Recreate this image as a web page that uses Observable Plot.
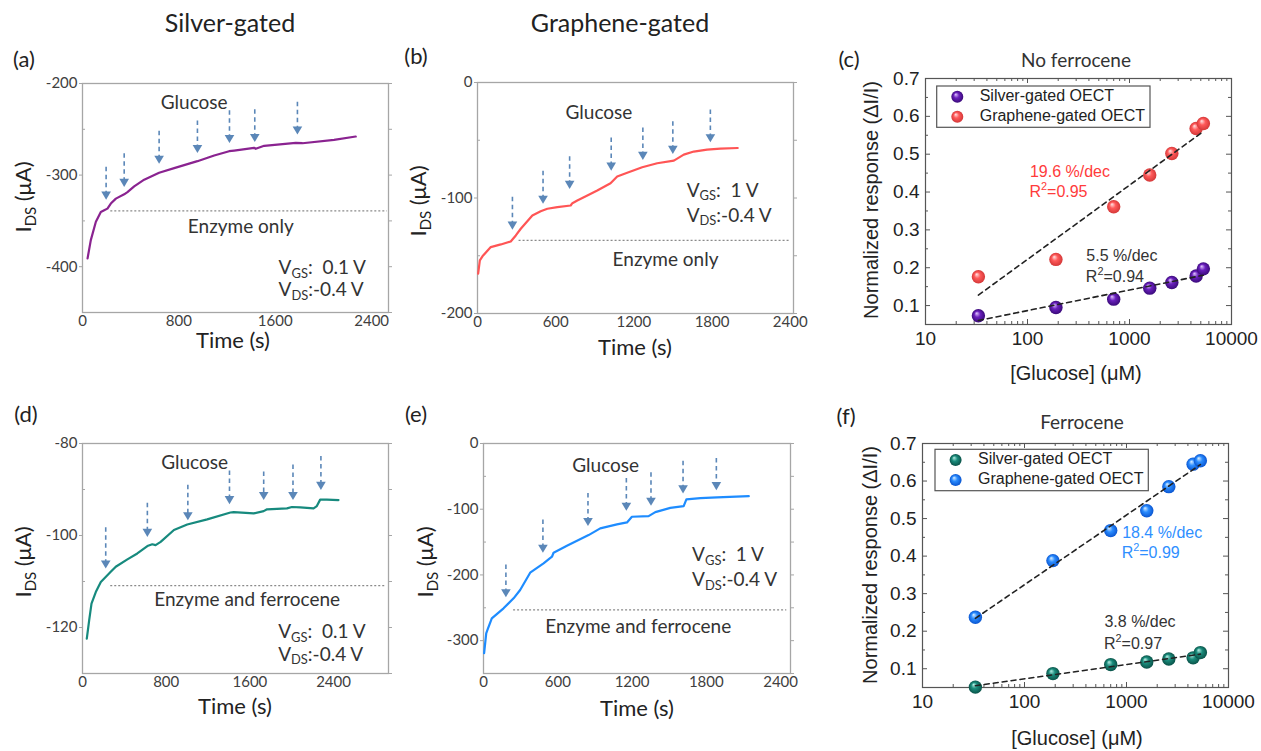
<!DOCTYPE html>
<html><head><meta charset="utf-8">
<script src="https://cdn.jsdelivr.net/npm/d3@7"></script>
<script src="https://cdn.jsdelivr.net/npm/@observablehq/plot@0.6"></script>
<style>
html,body{margin:0;padding:0;background:#fff;}
#root{position:relative;width:1261px;height:751px;overflow:hidden;background:#fff;}
.lab{position:absolute;transform:translate(-50%,-50%);white-space:nowrap;color:#222;font-family:Lato,sans-serif;}
.pl{position:absolute;}
</style></head><body>
<svg width="0" height="0" style="position:absolute">
<defs>
<radialGradient id="sphPurple" cx="50%" cy="50%" r="50%" fx="36%" fy="30%"><stop offset="0%" stop-color="#e2c8ff"/><stop offset="45%" stop-color="#6a20bd"/><stop offset="100%" stop-color="#3a0a7a"/></radialGradient>
<radialGradient id="sphRed" cx="50%" cy="50%" r="50%" fx="36%" fy="30%"><stop offset="0%" stop-color="#ffe6e6"/><stop offset="45%" stop-color="#ff5a5a"/><stop offset="100%" stop-color="#d43838"/></radialGradient>
<radialGradient id="sphTeal" cx="50%" cy="50%" r="50%" fx="36%" fy="30%"><stop offset="0%" stop-color="#b8eee4"/><stop offset="45%" stop-color="#1a8c7c"/><stop offset="100%" stop-color="#0a5248"/></radialGradient>
<radialGradient id="sphBlue" cx="50%" cy="50%" r="50%" fx="36%" fy="30%"><stop offset="0%" stop-color="#dcefff"/><stop offset="45%" stop-color="#2a8cff"/><stop offset="100%" stop-color="#0a55d0"/></radialGradient>
</defs></svg>
<div id="root"></div>
<script>
// ---------------- DATA ----------------
// (a) Silver-gated, enzyme only
const timeA = [42, 69, 111, 152, 180, 207, 235, 277, 346, 373, 429, 512, 636, 761, 954, 1093, 1217, 1259, 1424, 1438, 1508, 1770, 1826, 2088, 2268];
const idsA = [-390.9, -371, -351, -340.2, -338.4, -336.6, -331.1, -325.7, -321, -318.5, -312.3, -305, -297.4, -292.4, -284.8, -278.6, -273.9, -273.2, -270.2, -271.3, -268, -264.8, -265.2, -261.5, -257.9];
const arrowTimeA = [196, 346, 636, 954, 1220, 1430, 1784];
const arrowTopA = [-291.3, -276.8, -252, -241, -229.7, -228.6, -220.6];
const arrowTipA = [-326.8, -313, -287.7, -276, -265, -264, -255.8];
const baselineA = [-339, 235, 2530];

// (b) Graphene-gated, enzyme only
const timeB = [5, 18, 38, 102, 179, 255, 294, 332, 421, 485, 536, 613, 715, 728, 766, 843, 919, 1021, 1072, 1149, 1264, 1379, 1507, 1583, 1660, 1762, 1864, 1997];
const idsB = [-165.5, -154, -150.5, -142.5, -140.2, -137.6, -132.4, -126.6, -115.1, -111.4, -109.3, -107.9, -106.5, -104.5, -102.2, -97.8, -93.5, -87.2, -81.4, -78.2, -73.4, -69.9, -67.6, -62.4, -59.8, -58.1, -57.3, -56.7];
const arrowTimeB = [268, 503, 707, 1026, 1269, 1499, 1787];
const arrowTopB = [-99.3, -76.8, -64.2, -48, -39.4, -33.9, -23.9];
const arrowTipB = [-127.5, -105, -92.1, -76.3, -67, -61.9, -51.8];
const baselineB = [-136.7, 319, 2400];

// (d) Silver-gated, enzyme and ferrocene
const timeD = [41, 64, 86, 127, 175, 270, 318, 429, 524, 620, 667, 699, 747, 874, 1001, 1192, 1414, 1446, 1637, 1732, 1764, 1954, 2002, 2082, 2209, 2240, 2272, 2336, 2447];
const idsD = [-122.4, -118.4, -114.8, -112.3, -110.1, -107.9, -106.8, -105.2, -103.9, -102.3, -101.9, -102.1, -101.4, -98.8, -97.6, -96.5, -95, -94.9, -95.2, -94.7, -94.3, -94.1, -93.8, -93.9, -94.1, -93.6, -92.2, -92.2, -92.3];
const arrowTimeD = [222, 620, 1007, 1405, 1732, 2012, 2279];
const arrowTopD = [-98.3, -93, -89.1, -86, -86.2, -84.7, -82.8];
const arrowTipD = [-107.2, -100.3, -96.7, -93.2, -92.3, -92.3, -90.1];
const baselineD = [-110.9, 270, 2900];

// (e) Graphene-gated, enzyme and ferrocene
const timeE = [5, 22, 32, 67, 162, 243, 296, 377, 485, 553, 566, 674, 849, 943, 1078, 1159, 1199, 1334, 1388, 1509, 1617, 1639, 1752, 1887, 2143];
const idsE = [-319.1, -288.8, -283.7, -266, -250.8, -235.6, -222.9, -196.6, -182.4, -172.3, -166.2, -155.6, -139.4, -129.2, -123.1, -120.1, -111.5, -110.5, -104.4, -97.9, -95.3, -85.1, -83.1, -82.1, -80.1];
const arrowTimeE = [181, 480, 844, 1154, 1353, 1612, 1881];
const arrowTopE = [-185, -116.6, -76, -53.2, -44.7, -26.9, -22.8];
const arrowTipE = [-234, -166.3, -125.7, -102.4, -94.8, -76, -71];
const baselineE = [-253.3, 243, 2450];

// (c)/(f) calibration
const glucose = [33, 190, 700, 1580, 2600, 4500, 5300];
const silverNoFc = [0.073, 0.095, 0.117, 0.146, 0.161, 0.178, 0.197];
const grapheneNoFc = [0.176, 0.222, 0.361, 0.445, 0.502, 0.568, 0.581];
const silverFc = [0.051, 0.087, 0.111, 0.118, 0.126, 0.129, 0.143];
const grapheneFc = [0.237, 0.388, 0.468, 0.521, 0.585, 0.645, 0.654];

const xMajorLog = [10, 100, 1000, 10000];
const xMinorLog = [20,30,40,50,60,70,80,90,200,300,400,500,600,700,800,900,2000,3000,4000,5000,6000,7000,8000,9000];
const yMajorResp = [0.1, 0.2, 0.3, 0.4, 0.5, 0.6, 0.7];
const yMinorResp = [0.15, 0.25, 0.35, 0.45, 0.55, 0.65];

// ---------------- HELPERS ----------------
const root = document.getElementById("root");
const ARROW = "#5b87b8";
function addLabel(text, x, y, style) {
  const d = document.createElement("div"); d.className = "lab"; d.textContent = text;
  d.style.left = x + "px"; d.style.top = y + "px"; Object.assign(d.style, style || {}); root.appendChild(d);
}
function place(svg, left, top) {
  const d = document.createElement("div"); d.className = "pl";
  d.style.left = left + "px"; d.style.top = top + "px"; d.appendChild(svg); root.appendChild(d);
}
function rich(svg, x, y, parts, o) {
  const t = d3.select(svg).append("text").attr("x", x).attr("y", y)
    .attr("font-family", o.font).attr("font-size", o.size).attr("fill", o.fill || "#333")
    .attr("text-anchor", o.anchor || "start").attr("dominant-baseline", "middle")
    .style("white-space", "pre");
  if (o.rotate) t.attr("transform", `rotate(${o.rotate},${x},${y})`);
  let shift = 0;
  for (const [s, kind] of parts) {
    const sp = t.append("tspan").text(s);
    const target = kind === "sub" ? o.size * 0.3 : kind === "sup" ? -o.size * 0.38 : 0;
    sp.attr("dy", target - shift); shift = target;
    if (kind) sp.attr("font-size", o.size * 0.68);
  }
}
const triDown = { draw(ctx, size) { const r = Math.sqrt(size / Math.PI);
  ctx.moveTo(-1.3 * r, -2.2 * r); ctx.lineTo(1.3 * r, -2.2 * r); ctx.lineTo(0, 0); ctx.closePath(); } };

// inward/outward short ticks drawn with tick marks + insets
function edgeTicksY(values, fw, side, len, stroke) {
  const o = {y: d => d, stroke, strokeWidth: 1};
  if (side === "left") o.insetRight = fw - len; else o.insetLeft = fw - len;
  return Plot.tickY(values, o);
}
function edgeTicksX(values, fh, side, len, stroke) {
  const o = {x: d => d, stroke, strokeWidth: 1};
  if (side === "top") o.insetBottom = fh - len; else o.insetTop = fh - len;
  return Plot.tickX(values, o);
}

function timePanel(c) {
  const line = c.t.map((t, i) => ({t, y: c.y[i]}));
  const arr = c.at.map((t, i) => ({t, top: c.atop[i], tip: c.atip[i]}));
  const G = "#a6a6a6";
  const fw = c.w - c.ml - c.mr;
  const svg = Plot.plot({
    width: c.w, height: c.h, marginLeft: c.ml, marginRight: c.mr, marginTop: c.mt, marginBottom: c.mb,
    style: {fontFamily: "Lato, sans-serif", fontSize: "15px", color: "#404040", background: "transparent", overflow: "visible"},
    x: {domain: c.xd}, y: {domain: c.yd},
    marks: [
      Plot.axisX({ticks: c.xt, tickSize: 0, tickPadding: 3, label: null, tickFormat: d => String(d)}),
      Plot.axisY({ticks: c.yt, tickSize: 3, tickPadding: 2, label: null, stroke: G, tickFormat: d => String(d)}),
      edgeTicksY(c.ym, fw, "left", 3, G),
      Plot.axisY({anchor: "right", ticks: c.yt.concat(c.ym), tickSize: 3, label: null, stroke: G, tickFormat: () => ""}),
      Plot.frame({stroke: G, strokeWidth: 1.3}),
      Plot.ruleY([c.base[0]], {x1: c.base[1], x2: c.base[2], stroke: "#8a8a8a", strokeWidth: 1.2, strokeDasharray: "2,2"}),
      Plot.line(line, {x: "t", y: "y", stroke: c.color, strokeWidth: 2.2}),
      Plot.ruleX(arr, {x: "t", y1: "top", y2: "tip", stroke: ARROW, strokeWidth: 1.6, strokeDasharray: "4.5,3.5", insetBottom: 4}),
      Plot.dot(arr, {x: "t", y: "tip", symbol: triDown, r: 3.7, fill: ARROW}),
      Plot.text(["Glucose"], {x: c.gl[0], y: c.gl[1], fontSize: 19, fill: "#333", fontFamily: "Lato"}),
      Plot.text([c.enzText], {x: c.en[0], y: c.en[1], fontSize: 19, fill: "#333", fontFamily: "Lato"})
    ]
  });
  const sx = svg.scale("x"), sy = svg.scale("y");
  const f = {font: "Lato, sans-serif", size: 19, fill: "#333"};
  rich(svg, sx.apply(c.v[0]), sy.apply(c.v[1]), [["V"], ["GS", "sub"], [":\u00a0\u00a0" + c.vgs]], f);
  rich(svg, sx.apply(c.v[0]), sy.apply(c.v[2]), [["V"], ["DS", "sub"], [":-0.4 V"]], f);
  rich(svg, c.xl[0], c.xl[1], [["Time (s)"]], {font: "Lato, sans-serif", size: 22, fill: "#222", anchor: "middle"});
  rich(svg, c.yl[0], c.yl[1], [["I"], ["DS", "sub"], [" (\u03bcA)"]], {font: "Lato, sans-serif", size: 22, fill: "#222", anchor: "middle", rotate: -90});
  place(svg, c.left, c.top);
}

function fitLine(xs, ys) {
  const lx = xs.map(Math.log10), mx = d3.mean(lx), my = d3.mean(ys);
  let sxy = 0, sxx = 0;
  lx.forEach((v, i) => { sxy += (v - mx) * (ys[i] - my); sxx += (v - mx) ** 2; });
  const b = sxy / sxx, a = my - b * mx;
  return [d3.min(xs), d3.max(xs)].map(x => ({x, y: a + b * Math.log10(x)}));
}

function concPanel(c) {
  const pts = ys => glucose.map((x, i) => ({x, y: ys[i]}));
  const D = "#555";
  const FONT = "'Liberation Sans', Arial, sans-serif";
  const fw = c.w - c.ml - c.mr, fh = c.h - c.mt - c.mb;
  const svg = Plot.plot({
    width: c.w, height: c.h, marginLeft: c.ml, marginRight: c.mr, marginTop: c.mt, marginBottom: c.mb,
    style: {fontFamily: FONT, fontSize: "19px", color: "#222", background: "transparent", overflow: "visible"},
    x: {type: "log", domain: [10, 10000]}, y: {domain: [0.05, 0.7]},
    marks: [
      Plot.axisX({ticks: xMajorLog, tickSize: 0, tickPadding: 7, label: null, tickFormat: d => String(d)}),
      Plot.axisY({ticks: yMajorResp, tickSize: 0, tickPadding: 6, label: null, tickFormat: d => d.toFixed(1)}),
      edgeTicksX(xMajorLog, fh, "bottom", 5, D), edgeTicksX(xMinorLog, fh, "bottom", 3, D),
      edgeTicksX(xMajorLog, fh, "top", 5, D), edgeTicksX(xMinorLog, fh, "top", 3, D),
      edgeTicksY(yMajorResp, fw, "left", 5, D), edgeTicksY(yMinorResp, fw, "left", 3, D),
      edgeTicksY(yMajorResp, fw, "right", 5, D), edgeTicksY(yMinorResp, fw, "right", 3, D),
      Plot.frame({stroke: D, strokeWidth: 1.2}),
      Plot.dot(pts(c.g), {x: "x", y: "y", r: 6.7, fill: c.gFill}),
      Plot.dot(pts(c.s), {x: "x", y: "y", r: 6.7, fill: c.sFill}),
      Plot.line(fitLine(glucose, c.g), {x: "x", y: "y", stroke: "#222", strokeWidth: 1.6, strokeDasharray: "5,4"}),
      Plot.line(fitLine(glucose, c.s), {x: "x", y: "y", stroke: "#222", strokeWidth: 1.6, strokeDasharray: "5,4"}),
      Plot.text([c.gSlope], {x: c.gPos[0], y: c.gPos[1], textAnchor: "start", fill: c.gColor, fontSize: 16}),
      Plot.text([c.sSlope], {x: c.sPos[0], y: c.sPos[1], textAnchor: "start", fill: "#333", fontSize: 16})
    ]
  });
  const sx = svg.scale("x"), sy = svg.scale("y");
  rich(svg, sx.apply(c.gPos[0]), sy.apply(c.gPos[2]), [["R"], ["2", "sup"], ["=" + c.gR2]], {font: FONT, size: 16, fill: c.gColor});
  rich(svg, sx.apply(c.sPos[0]), sy.apply(c.sPos[2]), [["R"], ["2", "sup"], ["=" + c.sR2]], {font: FONT, size: 16, fill: "#333"});
  rich(svg, c.xl[0], c.xl[1], [["[Glucose] (\u03bcM)"]], {font: FONT, size: 20, fill: "#222", anchor: "middle"});
  rich(svg, c.yl[0], c.yl[1], [["Normalized response (\u0394I/I)"]], {font: FONT, size: 20, fill: "#222", anchor: "middle", rotate: -90});
  // legend
  const L = c.leg, g = d3.select(svg).append("g");
  g.append("rect").attr("x", L[0]).attr("y", L[1]).attr("width", L[2]).attr("height", L[3]).attr("fill", "#fff").attr("stroke", "#555").attr("stroke-width", 1.2);
  [[c.sFill, "Silver-gated OECT"], [c.gFill, "Graphene-gated OECT"]].forEach(([fill, txt], i) => {
    const yy = L[1] + 10.7 + i * 20;
    g.append("circle").attr("cx", L[0] + 20.6).attr("cy", yy).attr("r", 6).attr("fill", fill);
    g.append("text").attr("x", L[0] + 43).attr("y", yy).attr("dominant-baseline", "middle")
      .attr("text-anchor", "start")
      .attr("font-family", FONT).attr("font-size", 16).attr("fill", "#222").text(txt);
  });
  place(svg, c.left, c.top);
}

// ---------------- PANELS ----------------
timePanel({left: 0, top: 40, w: 400, h: 320, ml: 82, mr: 12, mt: 43, mb: 48,
  xd: [0, 2540], xt: [0, 800, 1600, 2400], yd: [-450, -200], yt: [-400, -300, -200], ym: [-450, -350, -250],
  t: timeA, y: idsA, color: "#8a2390", at: arrowTimeA, atop: arrowTopA, atip: arrowTipA, base: baselineA,
  gl: [927, -220.7], en: [1314, -356.5], enzText: "Enzyme only", v: [1632, -403.6, -427.2], vgs: "0.1 V",
  xl: [233, 302], yl: [25, 157]});
timePanel({left: 400, top: 40, w: 420, h: 320, ml: 77, mr: 27, mt: 42, mb: 47,
  xd: [0, 2425], xt: [0, 600, 1200, 1800, 2400], yd: [-200, 0], yt: [-200, -100, 0], ym: [-150, -50],
  t: timeB, y: idsB, color: "#ff5555", at: arrowTimeB, atop: arrowTopB, atip: arrowTipB, base: baselineB,
  gl: [932, -25.9], en: [1443, -154], enzText: "Enzyme only", v: [1609, -95, -116.6], vgs: "1 V",
  xl: [235, 309], yl: [20, 161]});
timePanel({left: 0, top: 400, w: 400, h: 330, ml: 82, mr: 12, mt: 43, mb: 57,
  xd: [0, 2925], xt: [0, 800, 1600, 2400], yd: [-130, -80], yt: [-120, -100, -80], ym: [-130, -110, -90],
  t: timeD, y: idsD, color: "#178a7e", at: arrowTimeD, atop: arrowTopD, atip: arrowTipD, base: baselineD,
  gl: [1071, -84.3], en: [1574, -114.1], enzText: "Enzyme and ferrocene", v: [1875, -121.3, -126.2], vgs: "0.1 V",
  xl: [235, 308], yl: [25, 162]});
timePanel({left: 400, top: 400, w: 420, h: 330, ml: 83, mr: 30, mt: 43, mb: 57,
  xd: [0, 2480], xt: [0, 600, 1200, 1800, 2400], yd: [-350, 0], yt: [-300, -200, -100, 0], ym: [-350, -250, -150, -50],
  t: timeE, y: idsE, color: "#1e8cff", at: arrowTimeE, atop: arrowTopE, atip: arrowTipE, base: baselineE,
  gl: [987, -34], en: [1250, -278.7], enzText: "Enzyme and ferrocene", v: [1689, -172.3, -210.3], vgs: "1 V",
  xl: [237, 310], yl: [27, 162]});

concPanel({left: 820, top: 40, w: 441, h: 345, ml: 105, mr: 30, mt: 38, mb: 61,
  g: grapheneNoFc, s: silverNoFc, gFill: "url(#sphRed)", sFill: "url(#sphPurple)",
  gSlope: "19.6 %/dec", gR2: "0.95", gColor: "#ff3b3b", gPos: [105.6, 0.4535, 0.3965],
  sSlope: "5.5 %/dec", sR2: "0.94", sPos: [377.6, 0.231, 0.172],
  xl: [256, 335], yl: [53, 160], leg: [116.7, 46, 213.3, 41.3]});
concPanel({left: 820, top: 400, w: 441, h: 351, ml: 102, mr: 33, mt: 43, mb: 64,
  g: grapheneFc, s: silverFc, gFill: "url(#sphBlue)", sFill: "url(#sphTeal)",
  gSlope: "18.4 %/dec", gR2: "0.99", gColor: "#2f8fff", gPos: [906, 0.4606, 0.403],
  sSlope: "3.8 %/dec", sR2: "0.97", sPos: [608, 0.224, 0.162],
  xl: [257, 340], yl: [52, 165], leg: [115, 49.3, 213.3, 41.4]});

// headers and panel letters
addLabel("Silver-gated", 230, 22, {fontSize: "25px"});
addLabel("Graphene-gated", 620, 22, {fontSize: "25px"});
addLabel("No ferrocene", 1076, 59, {fontSize: "19px", color: "#333"});
addLabel("Ferrocene", 1082, 421, {fontSize: "19px", color: "#333"});
[["(a)", 24, 58], ["(b)", 416, 55], ["(c)", 849, 58], ["(d)", 26, 413], ["(e)", 416, 413], ["(f)", 846, 415]]
  .forEach(([s, x, y]) => addLabel(s, x, y, {fontSize: "22px"}));
</script></body></html>
